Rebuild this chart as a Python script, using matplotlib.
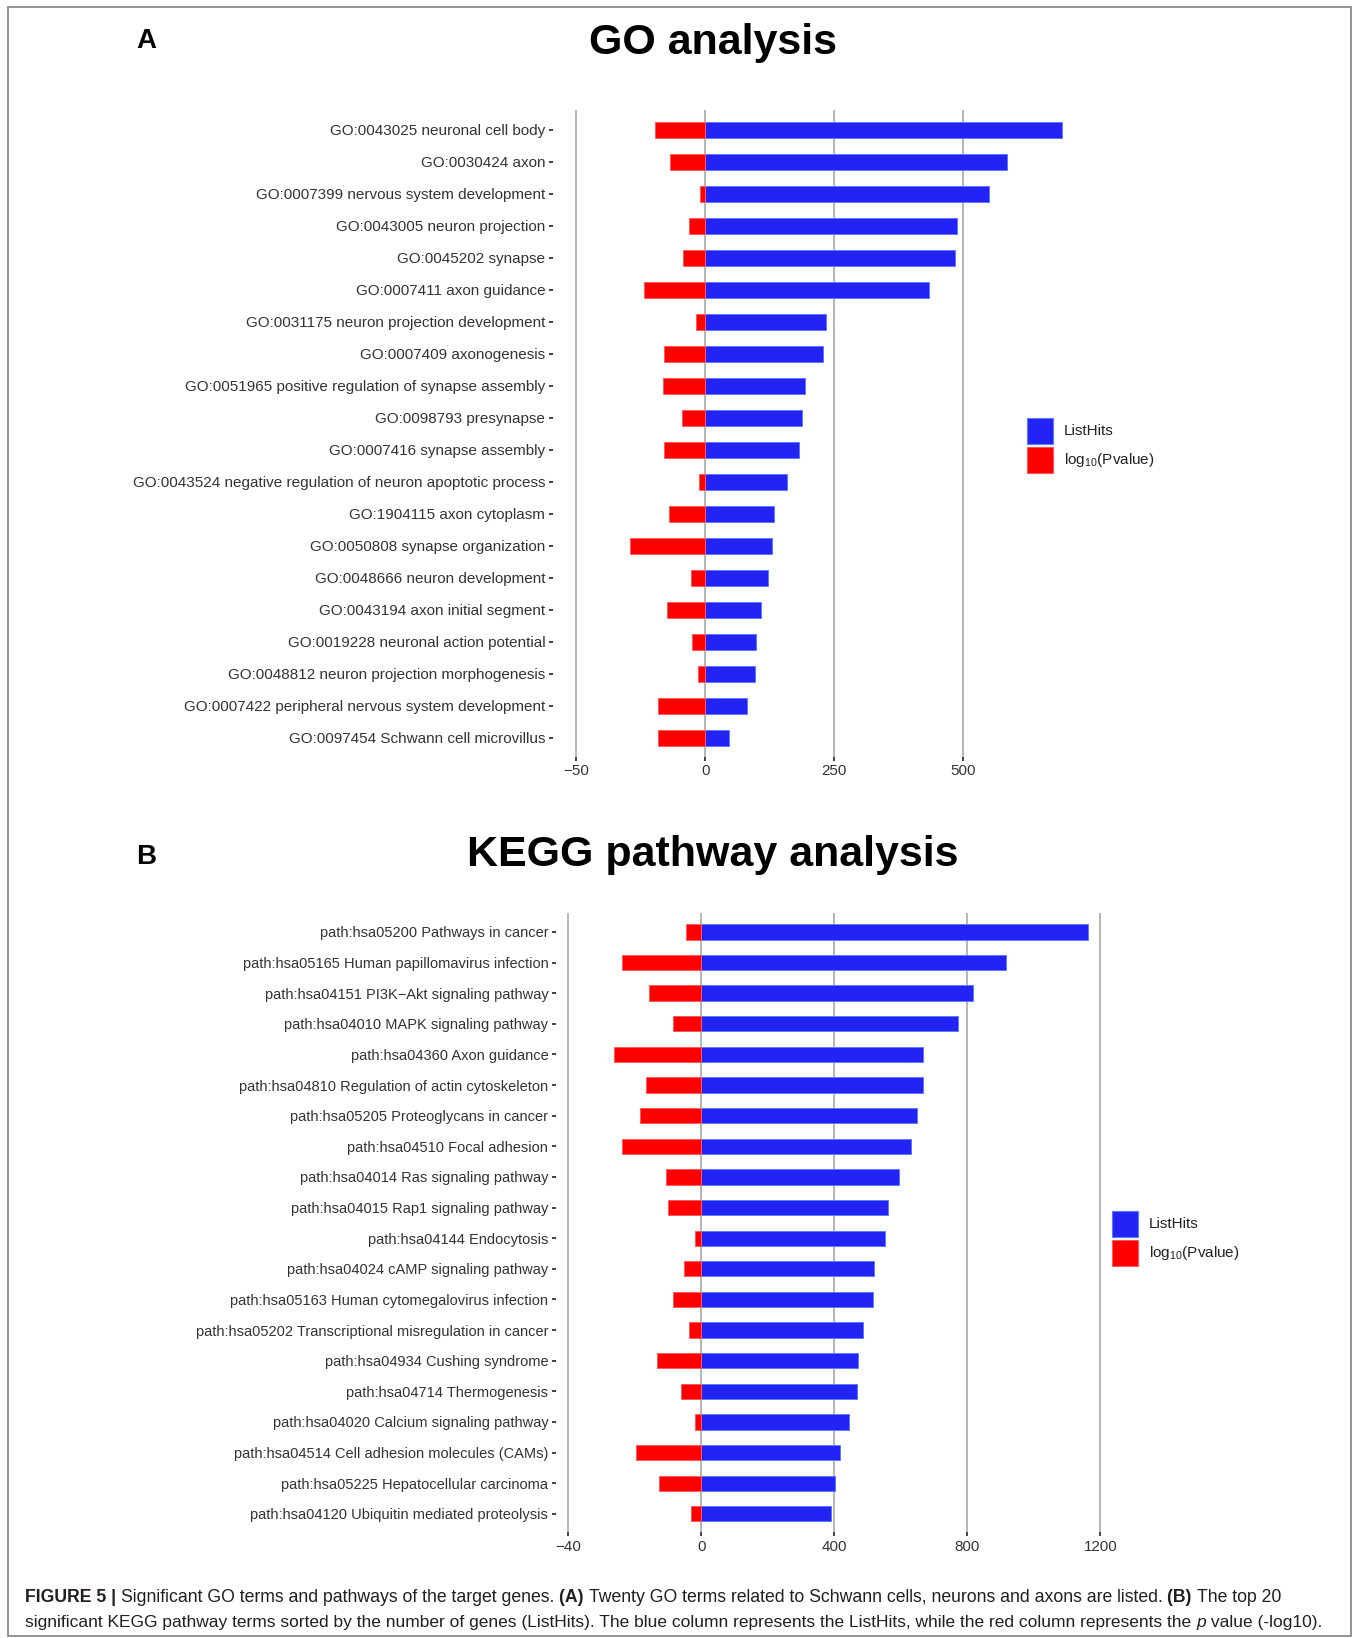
import matplotlib
matplotlib.use('Agg')
import matplotlib.pyplot as plt
from matplotlib.patches import Rectangle
from matplotlib import font_manager
import numpy as np

plt.rcParams['font.family'] = ['Liberation Sans', 'DejaVu Sans']
plt.rcParams['mathtext.default'] = 'regular'

# GO terms, top to bottom
go_terms = ['GO:0043025 neuronal cell body', 'GO:0030424 axon',
            'GO:0007399 nervous system development', 'GO:0043005 neuron projection',
            'GO:0045202 synapse', 'GO:0007411 axon guidance',
            'GO:0031175 neuron projection development', 'GO:0007409 axonogenesis',
            'GO:0051965 positive regulation of synapse assembly', 'GO:0098793 presynapse',
            'GO:0007416 synapse assembly',
            'GO:0043524 negative regulation of neuron apoptotic process',
            'GO:1904115 axon cytoplasm', 'GO:0050808 synapse organization',
            'GO:0048666 neuron development', 'GO:0043194 axon initial segment',
            'GO:0019228 neuronal action potential', 'GO:0048812 neuron projection morphogenesis',
            'GO:0007422 peripheral nervous system development',
            'GO:0097454 Schwann cell microvillus']
go_hits = [690, 585, 550, 488, 483, 433, 234, 228, 193, 187,
           182, 159, 134, 130, 121, 108, 99, 96, 80, 46]
go_logp = [19.3, 13.8, 2.2, 6.2, 8.7, 23.8, 3.6, 16.1, 16.3, 9.2,
           16.0, 2.6, 14.0, 29.3, 5.6, 14.9, 5.2, 2.8, 18.3, 18.5]

kegg_terms = ['path:hsa05200 Pathways in cancer', 'path:hsa05165 Human papillomavirus infection',
              'path:hsa04151 PI3K\u2212Akt signaling pathway', 'path:hsa04010 MAPK signaling pathway',
              'path:hsa04360 Axon guidance', 'path:hsa04810 Regulation of actin cytoskeleton',
              'path:hsa05205 Proteoglycans in cancer', 'path:hsa04510 Focal adhesion',
              'path:hsa04014 Ras signaling pathway', 'path:hsa04015 Rap1 signaling pathway',
              'path:hsa04144 Endocytosis', 'path:hsa04024 cAMP signaling pathway',
              'path:hsa05163 Human cytomegalovirus infection',
              'path:hsa05202 Transcriptional misregulation in cancer',
              'path:hsa04934 Cushing syndrome', 'path:hsa04714 Thermogenesis',
              'path:hsa04020 Calcium signaling pathway',
              'path:hsa04514 Cell adhesion molecules (CAMs)',
              'path:hsa05225 Hepatocellular carcinoma',
              'path:hsa04120 Ubiquitin mediated proteolysis']
kegg_hits = [1163, 915, 817, 771, 667, 667, 648, 630, 593, 562,
             552, 518, 515, 486, 471, 468, 443, 417, 401, 391]
kegg_logp = [4.6, 24.0, 15.6, 8.5, 26.3, 16.6, 18.4, 24.0, 10.5, 10.0,
             1.9, 5.2, 8.5, 3.6, 13.4, 6.1, 2.0, 19.5, 12.6, 3.0]

W, H = 1357, 1638
fig = plt.figure(figsize=(W / 100, H / 100), dpi=100)
fig.patch.set_facecolor('white')


def fx(x):
    return x / W


def fy(y):
    return 1 - y / H


def panel(box, terms, hits, logp, scale, xlim, ticks, ticklabels, lsize):
    left, top, right, bottom = box
    ax = fig.add_axes([fx(left), fy(bottom), (right - left) / W, (bottom - top) / H])
    y = np.arange(len(terms))
    neg = -np.array(logp) * scale
    ax.barh(y, hits, height=0.5, color='#2323f5', edgecolor='#5b7bff', linewidth=0.7, zorder=3)
    ax.barh(y, neg, height=0.5, color='#ff0000', edgecolor='#ff5a5a', linewidth=0.7, zorder=3)
    ax.set_xlim(*xlim)
    ax.set_ylim(len(terms) - 0.4, -0.6)
    ax.set_yticks(y)
    ax.set_yticklabels(terms)
    ax.set_xticks(ticks)
    ax.set_xticklabels(ticklabels)
    ax.grid(axis='x', color='#b5b5b5', linewidth=1.4, zorder=0)
    ax.grid(axis='y', visible=False)
    ax.set_axisbelow(True)
    for s in ax.spines.values():
        s.set_visible(False)
    ax.tick_params(axis='both', length=3, width=1.3, color='#333333',
                   labelsize=lsize, labelcolor='#333333', pad=2.5)
    ax.tick_params(axis='x', labelsize=10.9)
    ax.set_facecolor('none')
    return ax


def legend(x, y):
    # x,y = top-left of blue key (pixels)
    fig.patches.append(Rectangle((fx(x), fy(y + 27)), 26 / W, 26 / H, transform=fig.transFigure,
                                 facecolor='#2323f5', edgecolor='#5b7bff', linewidth=0.8))
    fig.patches.append(Rectangle((fx(x), fy(y + 56)), 26 / W, 26 / H, transform=fig.transFigure,
                                 facecolor='#ff0000', edgecolor='#ff5a5a', linewidth=0.8))
    fig.text(fx(x + 37), fy(y + 14), 'ListHits', fontsize=11, color='#222222', va='center')
    fig.text(fx(x + 37), fy(y + 43), 'log$_{10}$(Pvalue)', fontsize=11, color='#222222', va='center')


# panel A
panel((553, 110.3, 1077, 756.8), go_terms, go_hits, go_logp, 5, (-295, 720),
      [-250, 0, 250, 500], ['\u221250', '0', '250', '500'], 11.0)
fig.text(fx(713), fy(43), 'GO analysis', fontsize=31, fontweight='bold', ha='center', va='center')
fig.text(fx(146), fy(40.5), 'A', fontsize=20, fontweight='bold', ha='center', va='center')
legend(1027, 417)

# panel B
panel((556, 913.5, 1112, 1532.2), kegg_terms, kegg_hits, kegg_logp, 10, (-437, 1235),
      [-400, 0, 400, 800, 1200], ['\u221240', '0', '400', '800', '1200'], 10.55)
fig.text(fx(713), fy(855), 'KEGG pathway analysis', fontsize=31, fontweight='bold', ha='center', va='center')
fig.text(fx(146), fy(857), 'B', fontsize=20, fontweight='bold', ha='center', va='center')
legend(1112, 1210)

# caption
names = set(f.name for f in font_manager.fontManager.ttflist)
cap_font = 'Liberation Sans Narrow' if 'Liberation Sans Narrow' in names else 'Liberation Sans'
line1 = [('FIGURE 5 | ', 'bold', 'normal'),
         ('Significant GO terms and pathways of the target genes. ', 'normal', 'normal'),
         ('(A) ', 'bold', 'normal'),
         ('Twenty GO terms related to Schwann cells, neurons and axons are listed. ', 'normal', 'normal'),
         ('(B) ', 'bold', 'normal'),
         ('The top 20', 'normal', 'normal')]
line2 = [('significant KEGG pathway terms sorted by the number of genes (ListHits). The blue column '
          'represents the ListHits, while the red column represents the ', 'normal', 'normal'),
         ('p', 'normal', 'italic'),
         (' value (-log10).', 'normal', 'normal')]

renderer = fig.canvas.get_renderer()


def draw_runs(x, y, parts, size, draw=True):
    start = x
    made = []
    for txt, wt, st in parts:
        t = fig.text(fx(x), fy(y), txt, fontsize=size, fontweight=wt, fontstyle=st,
                     family=[cap_font, 'DejaVu Sans'], color='#231f20', va='baseline')
        x += t.get_window_extent(renderer=renderer).width
        made.append(t)
    if not draw:
        for t in made:
            t.remove()
    return x - start


w1 = draw_runs(25, 1602, line1, 12, draw=False)
w2 = draw_runs(25, 1627, line2, 12, draw=False)
draw_runs(25, 1602, line1, 12 * 1256 / w1)
draw_runs(25, 1627, line2, 12 * 1293 / w2)

# outer frame
fig.patches.append(Rectangle((fx(8), fy(1636)), (1351 - 8) / W, (1636 - 7) / H,
                             transform=fig.transFigure, fill=False, edgecolor='#8a8a8a', linewidth=1.3))

fig.savefig('out.png', dpi=100, facecolor='white')
